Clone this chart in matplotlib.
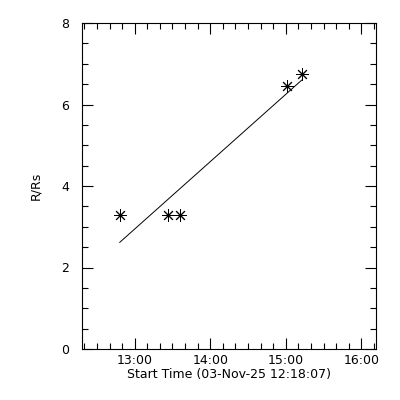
import datetime as dt
import numpy as np
import matplotlib
matplotlib.use('Agg')
import matplotlib.pyplot as plt
import matplotlib.dates as mdates
from matplotlib.ticker import MultipleLocator

start = dt.datetime(2025, 11, 3, 12, 18, 7)
end = dt.datetime(2025, 11, 3, 16, 11, 40)

# minutes after start
minutes = [30, 68, 78, 163, 174.5]
rrs = [3.3, 3.3, 3.3, 6.45, 6.75]

times = [start + dt.timedelta(minutes=m) for m in minutes]

# linear fit (as in the original plot)
coef = np.polyfit(minutes, rrs, 1)
fit = np.polyval(coef, [minutes[0], minutes[-1]])
fit_times = [times[0], times[-1]]

fig = plt.figure(figsize=(4, 4), dpi=100)
ax = fig.add_axes([0.205, 0.1275, 0.735, 0.815])

ax.plot(times, rrs, linestyle='none', marker=(8, 2, 0), markersize=9,
        color='black', markeredgewidth=0.7)
ax.plot(fit_times, fit, color='black', linewidth=0.7)

ax.set_xlim(start, end)
ax.set_ylim(0, 8)

ax.xaxis.set_major_locator(mdates.HourLocator())
ax.xaxis.set_minor_locator(mdates.MinuteLocator(byminute=range(0, 60, 10)))
ax.xaxis.set_major_formatter(mdates.DateFormatter('%H:%M'))
ax.yaxis.set_major_locator(MultipleLocator(2))
ax.yaxis.set_minor_locator(MultipleLocator(0.5))

ax.tick_params(which='both', direction='in', top=True, right=True,
               labelsize=9, width=0.8)
ax.tick_params(which='major', length=8)
ax.tick_params(which='minor', length=4)
ax.tick_params(axis='y', pad=9)
for s in ax.spines.values():
    s.set_linewidth(0.8)

ax.set_xlabel('Start Time (03-Nov-25 12:18:07)', fontsize=9, labelpad=1)
ax.set_ylabel('R/Rs', fontsize=9, labelpad=14)

fig.savefig('out.png', dpi=100)
